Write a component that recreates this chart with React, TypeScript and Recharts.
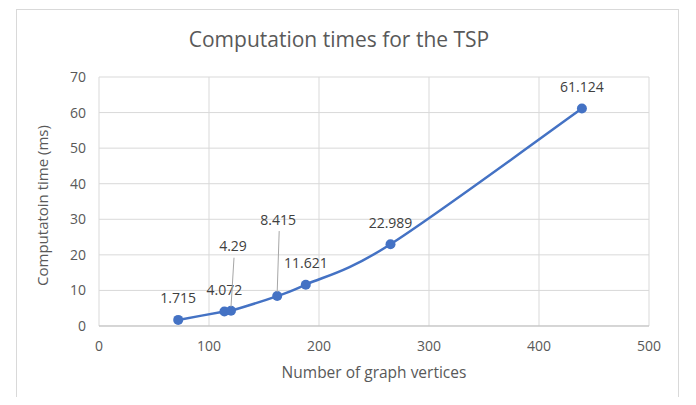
import React from 'react';
import { LineChart, Line, XAxis, YAxis, CartesianGrid, LabelList, Label } from 'recharts';

const vertices = [72, 114, 120, 162, 188, 265, 439];
const times = [1.715, 4.072, 4.29, 8.415, 11.621, 22.989, 61.124];
const xTicks = [0, 100, 200, 300, 400, 500];
const yTicks = [0, 10, 20, 30, 40, 50, 60, 70];

const data = vertices.map((v, i) => ({ vertices: v, time: times[i] }));

const FONT = '"Open Sans", sans-serif';
const BLUE = '#4472c4';

// Excel-style smoothed line (Catmull-Rom through the points), as a d3-style curve factory
function excelSmooth(context: any) {
  let pts: number[][] = [];
  return {
    areaStart() {},
    areaEnd() {},
    lineStart() {
      pts = [];
    },
    point(x: number, y: number) {
      pts.push([+x, +y]);
    },
    lineEnd() {
      const n = pts.length;
      if (!n) return;
      context.moveTo(pts[0][0], pts[0][1]);
      for (let i = 0; i < n - 1; i++) {
        const p0 = pts[Math.max(i - 1, 0)];
        const p1 = pts[i];
        const p2 = pts[i + 1];
        const p3 = pts[Math.min(i + 2, n - 1)];
        context.bezierCurveTo(
          p1[0] + (p2[0] - p0[0]) / 6,
          p1[1] + (p2[1] - p0[1]) / 6,
          p2[0] - (p3[0] - p1[0]) / 6,
          p2[1] - (p3[1] - p1[1]) / 6,
          p2[0],
          p2[1]
        );
      }
    },
  };
}

// how far above the marker each label sits; labels with a leader get pushed higher
const labelLift: Record<number, { lift: number; dx: number; leader?: boolean }> = {
  2: { lift: 65, dx: 2, leader: true },
  3: { lift: 77, dx: 1, leader: true },
};

function PointLabel(props: any) {
  const { x, y, value, index } = props;
  const cfg = labelLift[index] || { lift: 22, dx: 0 };
  const ty = y - cfg.lift;
  return (
    <g>
      {cfg.leader && (
        <line x1={x + cfg.dx + 1} y1={ty + 12} x2={x} y2={y - 4} stroke="#a6a6a6" strokeWidth={1} />
      )}
      <text
        x={x + cfg.dx}
        y={ty}
        textAnchor="middle"
        dominantBaseline="central"
        fontFamily={FONT}
        fontSize={14}
        fill="#404040"
      >
        {value}
      </text>
    </g>
  );
}

export default function App() {
  return (
    <div style={{ margin: -8, width: 696, height: 405, position: 'relative', background: '#fff', overflow: 'hidden' }}>
      <div
        style={{
          position: 'absolute',
          left: 16,
          top: 9,
          width: 663,
          height: 420,
          border: '1px solid #d9d9d9',
          boxSizing: 'border-box',
        }}
      />
      <div
        style={{
          position: 'absolute',
          left: 0,
          top: 25,
          width: 696,
          paddingRight: 18,
          boxSizing: 'border-box',
          textAlign: 'center',
          fontFamily: FONT,
          fontSize: 21,
          color: '#595959',
        }}
      >
        Computation times for the TSP
      </div>
      <div style={{ position: 'absolute', left: 0, top: 0 }}>
        <LineChart width={696} height={405} data={data} margin={{ top: 77, right: 47, bottom: 0, left: 0 }}>
          <CartesianGrid stroke="#d9d9d9" strokeWidth={1} />
          <XAxis
            dataKey="vertices"
            type="number"
            domain={[0, 500]}
            ticks={xTicks}
            height={79}
            axisLine={{ stroke: '#bfbfbf' }}
            tickLine={false}
            tickSize={0}
            tickMargin={15}
            tick={{ fontFamily: FONT, fontSize: 14, fill: '#595959' }}
          >
            <Label
              value="Number of graph vertices"
              position="insideTop"
              offset={41}
              style={{ fontFamily: FONT, fontSize: 15.5, fill: '#595959' }}
            />
          </XAxis>
          <YAxis
            type="number"
            domain={[0, 70]}
            ticks={yTicks}
            width={99}
            axisLine={false}
            tickLine={false}
            tickSize={0}
            tickMargin={13}
            tick={{ fontFamily: FONT, fontSize: 14, fill: '#595959' }}
          >
            <Label
              content={(p: any) => {
                const vb = p.viewBox;
                const cx = 42;
                const cy = vb.y + vb.height / 2 + 4;
                return (
                  <text
                    x={cx}
                    y={cy}
                    transform={`rotate(-90 ${cx} ${cy})`}
                    textAnchor="middle"
                    dominantBaseline="central"
                    fontFamily={FONT}
                    fontSize={15}
                    fill="#595959"
                  >
                    Computatoin time (ms)
                  </text>
                );
              }}
            />
          </YAxis>
          <Line
            dataKey="time"
            type={excelSmooth as any}
            stroke={BLUE}
            strokeWidth={2.5}
            dot={{ r: 5, fill: BLUE, stroke: BLUE, strokeWidth: 0 }}
            activeDot={false}
            isAnimationActive={false}
          >
            <LabelList dataKey="time" content={<PointLabel />} />
          </Line>
        </LineChart>
      </div>
    </div>
  );
}
